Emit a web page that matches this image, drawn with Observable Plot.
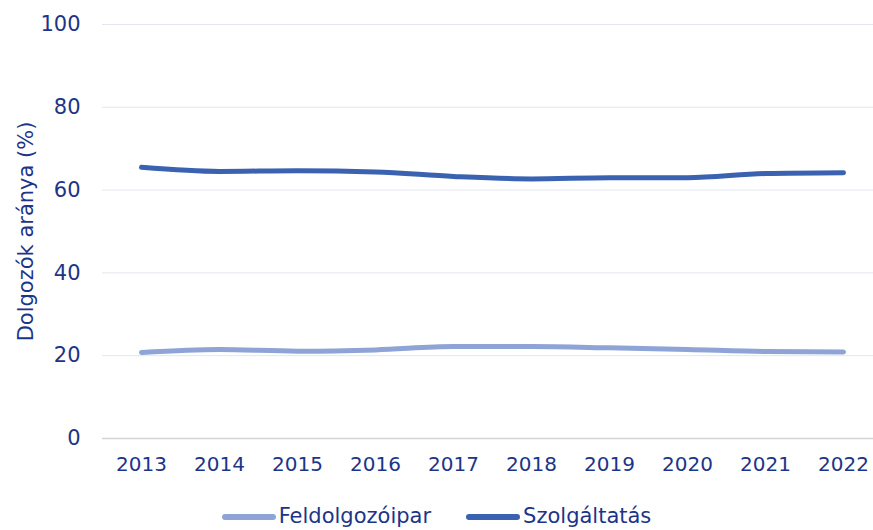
<!DOCTYPE html>
<html>
<head>
<meta charset="utf-8">
<script src="https://cdn.jsdelivr.net/npm/d3@7"></script>
<script src="https://cdn.jsdelivr.net/npm/@observablehq/plot@0.6"></script>
<style>
  body { margin: 0; background: #fff; font-family: "DejaVu Sans", sans-serif; color: #1c3588; }
  #wrap { position: relative; width: 873px; height: 530px; overflow: hidden; }
  #legend { position: absolute; left: 0; top: 504px; width: 873px; display: flex; justify-content: center; gap: 35px; font-size: 21px; line-height: 25px; color: #1c3588; }
  .item { display: flex; align-items: center; gap: 3px; }
  .sw { width: 54px; height: 6px; border-radius: 3px; }
</style>
</head>
<body>
<div id="wrap"><div id="chart"></div><div id="legend"></div></div>
<script>
const years = [2013, 2014, 2015, 2016, 2017, 2018, 2019, 2020, 2021, 2022];
const seriesNames = ["Feldolgozóipar", "Szolgáltatás"];
const feldolgozoipar = [20.8, 21.5, 21.1, 21.4, 22.2, 22.2, 21.9, 21.5, 21.0, 20.9];
const szolgaltatas = [65.5, 64.5, 64.7, 64.4, 63.3, 62.7, 63.0, 63.0, 64.0, 64.2];
const yTicks = [0, 20, 40, 60, 80, 100];
const colors = ["#8ea4d6", "#3a62b0"];
const textColor = "#1c3588";

const data = [];
years.forEach((y, i) => {
  data.push({year: y, value: feldolgozoipar[i], series: seriesNames[0]});
  data.push({year: y, value: szolgaltatas[i], series: seriesNames[1]});
});

const chart = Plot.plot({
  width: 873,
  height: 495,
  marginTop: 24,
  marginBottom: 57,
  marginLeft: 102,
  marginRight: 0,
  style: {fontFamily: "DejaVu Sans, sans-serif", fontSize: "21px", color: textColor, background: "transparent"},
  x: {type: "linear", domain: [2013, 2022], range: [141, 843]},
  y: {domain: [0, 100]},
  color: {domain: seriesNames, range: colors},
  marks: [
    Plot.ruleY(yTicks.filter(d => d > 0), {stroke: "#e3e6ef", strokeWidth: 1}),
    Plot.ruleY([0], {stroke: "#d4d4d4", strokeWidth: 1.5}),
    Plot.axisY({ticks: yTicks, tickSize: 0, tickPadding: 22, fill: textColor, label: "Dolgozók aránya (%)", labelAnchor: "center", labelArrow: "none", labelOffset: 84, fontSize: 21}),
    Plot.axisX({ticks: years, tickFormat: "d", tickSize: 0, tickPadding: 18, fill: textColor, label: null, fontSize: 20}),
    Plot.line(data, {x: "year", y: "value", z: "series", stroke: "series", strokeWidth: 5, curve: "monotone-x", strokeLinecap: "round"})
  ]
});
document.getElementById("chart").appendChild(chart);

const legend = document.getElementById("legend");
seriesNames.forEach((name, i) => {
  const item = document.createElement("div");
  item.className = "item";
  const sw = document.createElement("div");
  sw.className = "sw";
  sw.style.background = colors[i];
  const t = document.createElement("span");
  t.textContent = name;
  item.appendChild(sw);
  item.appendChild(t);
  legend.appendChild(item);
});
</script>
</body>
</html>
